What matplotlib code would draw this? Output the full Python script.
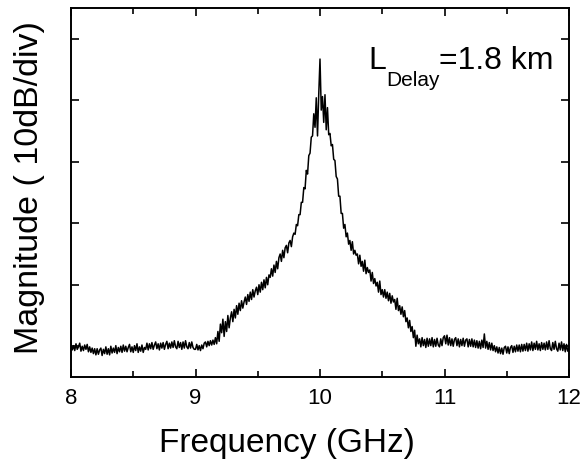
import numpy as np
import matplotlib
matplotlib.use("Agg")
import matplotlib.pyplot as plt

plt.rcParams['font.family'] = ['Liberation Sans', 'DejaVu Sans']

# frequency grid (GHz), 0.01 GHz steps from 8 to 12
freq = np.linspace(8.0, 12.0, 401)

# magnitude in divisions (10 dB/div)
magnitude = [
    1.03, 0.94, 1.01, 0.93, 1.04, 0.95, 0.99, 1.05, 0.92, 1.00, 0.93, 1.02, 0.95, 1.03, 0.91, 0.99, 0.90, 0.97, 0.88, 0.96,
    0.86, 0.96, 0.87, 0.94, 0.97, 0.85, 0.95, 0.88, 0.99, 0.87, 0.96, 0.86, 1.00, 0.89, 0.97, 0.90, 1.01, 0.88, 0.98, 0.91,
    1.00, 0.90, 1.02, 0.92, 1.00, 0.91, 0.98, 1.03, 0.91, 0.99, 0.90, 1.01, 0.93, 1.04, 0.90, 0.99, 0.92, 1.02, 0.90, 0.98,
    0.95, 1.05, 0.94, 1.04, 0.96, 1.06, 0.95, 1.02, 1.07, 0.96, 1.04, 0.94, 1.05, 0.97, 1.06, 0.95, 1.03, 1.08, 0.96, 1.05,
    0.97, 1.07, 0.98, 1.09, 0.99, 0.96, 1.08, 0.98, 1.06, 0.95, 1.07, 0.97, 1.09, 0.99, 0.96, 1.06, 0.97, 1.07, 0.98, 0.95,
    0.95, 1.03, 0.94, 1.01, 0.93, 1.02, 0.96, 1.05, 1.07, 0.99, 1.08, 1.01, 1.09, 1.02, 1.10, 1.03, 1.14, 1.04, 1.24, 1.08,
    1.36, 1.22, 1.44, 1.16, 1.40, 1.24, 1.50, 1.30, 1.46, 1.56, 1.40, 1.60, 1.46, 1.66, 1.52, 1.70, 1.58, 1.74, 1.62, 1.72,
    1.80, 1.68, 1.84, 1.73, 1.88, 1.76, 1.92, 1.80, 1.90, 1.96, 1.84, 2.00, 1.88, 2.04, 1.92, 2.08, 1.95, 2.12, 2.00, 2.16,
    2.12, 2.26, 2.14, 2.32, 2.20, 2.38, 2.26, 2.44, 2.50, 2.38, 2.56, 2.44, 2.60, 2.64, 2.52, 2.68, 2.72, 2.62, 2.78, 2.84,
    2.82, 2.98, 2.96, 3.14, 3.14, 3.34, 3.34, 3.58, 3.56, 3.86, 3.80, 4.10, 4.14, 4.40, 4.42, 4.78, 4.56, 5.04, 4.42, 5.10,
    5.67, 4.84, 5.06, 4.64, 5.09, 4.52, 4.88, 4.44, 4.46, 4.26, 4.28, 4.04, 4.02, 3.76, 3.72, 3.44, 3.44, 3.16, 3.16, 2.92,
    2.98, 2.78, 2.84, 2.66, 2.72, 2.56, 2.70, 2.50, 2.56, 2.48, 2.50, 2.34, 2.48, 2.30, 2.38, 2.22, 2.40, 2.18, 2.28, 2.20,
    2.24, 2.06, 2.20, 2.02, 2.10, 1.98, 2.04, 1.88, 2.06, 1.84, 1.92, 1.80, 1.92, 1.78, 1.88, 1.74, 1.86, 1.70, 1.82, 1.72,
    1.76, 1.60, 1.78, 1.58, 1.66, 1.52, 1.64, 1.48, 1.58, 1.40, 1.46, 1.30, 1.42, 1.24, 1.32, 1.14, 1.26, 1.00, 1.18, 1.04,
    1.12, 0.99, 1.14, 1.01, 1.11, 0.98, 1.13, 1.00, 1.12, 1.01, 1.14, 0.99, 1.11, 1.00, 1.13, 1.02, 0.99, 1.12, 1.01, 1.14,
    1.17, 1.04, 1.18, 1.02, 1.14, 1.01, 1.12, 1.00, 1.11, 1.14, 1.01, 1.12, 0.99, 1.11, 1.01, 1.13, 1.00, 1.10, 1.12, 0.99,
    1.11, 1.00, 1.12, 0.99, 1.10, 0.98, 1.09, 0.97, 1.08, 0.96, 1.10, 0.98, 1.20, 0.97, 1.08, 0.95, 1.06, 0.94, 1.05, 0.93,
    1.01, 0.91, 0.99, 0.89, 0.98, 0.88, 0.97, 0.87, 0.98, 1.00, 0.89, 0.99, 0.88, 0.98, 1.01, 0.90, 1.00, 0.91, 1.02, 0.92,
    1.02, 0.91, 1.03, 0.92, 1.03, 0.93, 1.05, 0.92, 1.04, 0.94, 1.07, 0.93, 1.05, 0.95, 1.08, 0.94, 1.04, 0.93, 1.06, 0.95,
    1.05, 0.94, 1.07, 0.95, 1.09, 0.96, 0.93, 1.06, 0.95, 1.08, 0.96, 0.92, 1.05, 0.94, 1.07, 0.93, 1.04, 0.91, 1.03, 0.92,
    0.97,
]

x_ticks = [8, 9, 10, 11, 12]
x_minor = [8.5, 9.5, 10.5, 11.5]
y_ticks = [1, 2, 3, 4, 5, 6]

fig = plt.figure(figsize=(5.82, 4.64), dpi=100)
# axes box in pixels: left 71, right 569, top 9, bottom 378
ax = fig.add_axes([71 / 582, (464 - 378) / 464, 498 / 582, 369 / 464])

ax.plot(freq, magnitude, color='black', lw=1.1)

ax.set_xlim(8, 12)
ax.set_ylim(0.5, 6.5)
ax.set_xticks(x_ticks)
ax.set_xticks(x_minor, minor=True)
ax.set_yticks(y_ticks)
ax.set_yticklabels([])

ax.tick_params(which='both', direction='in', top=True, right=True, width=1.2)
ax.tick_params(which='major', length=6, labelsize=16, pad=7)
ax.tick_params(which='minor', length=4)
for s in ax.spines.values():
    s.set_linewidth(1.4)

ax.set_xlabel('Frequency (GHz)', fontsize=24)
ax.xaxis.set_label_coords(0.434, -0.135)
# y label placed in figure pixels so it stays inside the canvas
fig.text(30 / 582, 1 - 188 / 464, 'Magnitude ( 10dB/div)', fontsize=24.5,
         rotation=90, ha='center', va='center')

# annotation L_Delay = 1.8 km
ax.text(0.598, 0.837, 'L', transform=ax.transAxes, fontsize=23, ha='left', va='baseline')
ax.text(0.633, 0.792, 'Delay', transform=ax.transAxes, fontsize=15, ha='left', va='baseline')
ax.text(0.738, 0.837, '=1.8 km', transform=ax.transAxes, fontsize=23, ha='left', va='baseline')

fig.savefig('out.png', dpi=100)
